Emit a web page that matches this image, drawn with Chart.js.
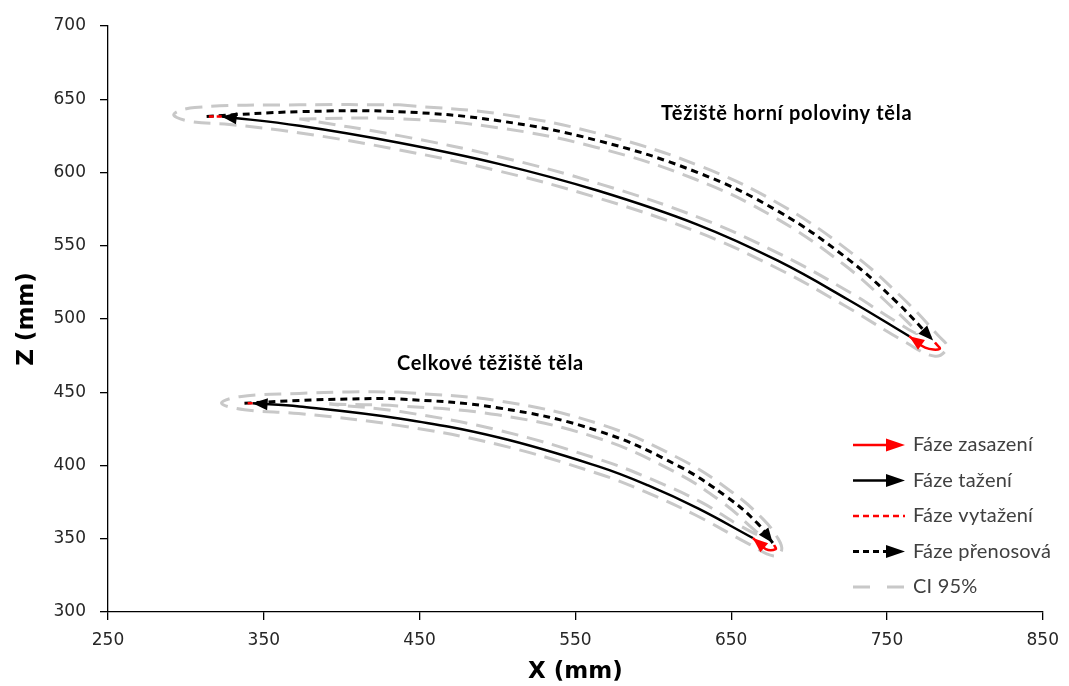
<!DOCTYPE html>
<html lang="cs">
<head>
<meta charset="utf-8">
<title>Trajektorie těžiště</title>
<script src="https://cdn.jsdelivr.net/npm/chart.js@4.4.1/dist/chart.umd.min.js"></script>
<style>
  html, body { margin: 0; padding: 0; background: #fff; }
  #graf { display: block; }
</style>
</head>
<body>
<canvas id="graf" width="1069" height="686"></canvas>
<script>
// osy
const xTicks = [250, 350, 450, 550, 650, 750, 850];
const zTicks = [300, 350, 400, 450, 500, 550, 600, 650, 700];

// těžiště horní poloviny těla
const hornPrenosX = [313.3, 372.8, 436.8, 500.8, 564.7, 628.7, 679.9, 724.6, 756.6, 779.6];
const hornPrenosZ = [638.3, 641.5, 641.5, 635.3, 621.7, 599.9, 573.7, 541.2, 511.2, 485.4];
const hornZasazX = [780.8, 783.8, 774.5, 764.3];
const hornZasazZ = [484.0, 479.6, 480.5, 488.2];
const hornTazX = [764.3, 724.6, 679.9, 628.7, 564.7, 500.8, 436.8, 372.8, 323.0];
const hornTazZ = [488.2, 513.5, 539.8, 564.3, 587.5, 605.9, 620.3, 631.9, 638.3];
const hornVytazX = [323.0, 313.3];
const hornVytazZ = [638.3, 638.3];
const hornCiVnejX = [437.0, 501.4, 565.9, 630.3, 682.1, 727.4, 759.7, 782.9, 788.6, 780.9, 762.0, 722.4, 677.9, 627.1, 563.4, 499.7, 436.0, 372.2, 328.0, 302.5, 292.2, 305.7, 372.8, 437.0];
const hornCiVnejZ = [646.2, 640.0, 626.3, 604.3, 577.8, 545.0, 514.7, 488.7, 480.7, 474.6, 484.1, 509.4, 535.5, 559.9, 583.0, 601.3, 615.6, 627.2, 632.8, 634.9, 639.6, 644.4, 646.2, 646.2];
const hornCiVnitX = [372.8, 436.6, 500.1, 563.6, 627.0, 677.6, 721.9, 753.6, 769.4, 753.4, 726.9, 681.8, 630.3, 566.0, 501.8, 437.6, 372.8];
const hornCiVnitZ = [636.6, 636.7, 630.6, 617.1, 595.4, 569.5, 537.5, 507.7, 490.3, 499.8, 517.7, 544.1, 568.8, 592.1, 610.6, 625.0, 636.6];

// celkové těžiště těla
const celkPrenosX = [337.6, 372.8, 404.8, 436.8, 500.8, 564.7, 615.9, 647.9, 667.1, 676.7];
const celkPrenosZ = [442.5, 444.4, 445.4, 445.4, 439.3, 423.6, 399.8, 378.0, 360.3, 347.1];
const celkZasazX = [677.5, 678.6, 672.2, 663.9];
const celkZasazZ = [345.7, 343.0, 343.0, 350.5];
const celkTazX = [663.9, 628.7, 596.7, 564.7, 500.8, 436.8, 372.8, 342.8];
const celkTazZ = [350.5, 370.7, 386.4, 399.4, 419.1, 432.1, 440.3, 442.5];
const celkVytazX = [342.8, 337.6];
const celkVytazZ = [442.5, 442.5];
const celkCiVnejX = [436.8, 501.5, 566.1, 618.0, 650.6, 670.3, 680.1, 682.4, 677.3, 661.8, 626.7, 595.0, 563.3, 499.7, 436.1, 372.4, 337.6, 322.9, 334.4, 372.8, 404.8, 436.8];
const celkCiVnejZ = [450.2, 444.0, 428.1, 404.1, 381.8, 363.6, 350.1, 342.3, 338.2, 346.2, 366.4, 382.0, 394.9, 414.5, 427.4, 435.5, 438.1, 442.5, 447.0, 449.2, 450.2, 450.2];
const celkCiVnitX = [392.0, 436.8, 500.0, 563.3, 613.8, 645.2, 663.9, 669.0, 654.3, 630.7, 598.4, 566.1, 501.8, 437.5, 392.0];
const celkCiVnitZ = [441.9, 440.6, 434.6, 419.1, 395.6, 374.2, 356.9, 351.8, 359.7, 375.0, 390.8, 403.9, 423.8, 436.8, 441.9];

// popisky
const popisky = [
  { text: 'Těžiště horní poloviny těla', x: 605.0, z: 640.0 },
  { text: 'Celkové těžiště těla', x: 435.5, z: 469.4 }
];
const legendaNazvy = ['Fáze zasazení', 'Fáze tažení', 'Fáze vytažení', 'Fáze přenosová', 'CI 95%'];

const CERVENA = '#ff0000';
const CERNA = '#000000';
const SEDA = '#c8c8c8';

function body(xs, zs) {
  return xs.map((x, i) => ({ x: x, y: zs[i] }));
}

const styly = {
  zasaz: { borderColor: CERVENA, borderWidth: 2.5, arrow: true },
  taz: { borderColor: CERNA, borderWidth: 2.5, arrow: true },
  vytaz: { borderColor: CERVENA, borderWidth: 2.5, borderDash: [5, 3] },
  prenos: { borderColor: CERNA, borderWidth: 3, borderDash: [7, 5], arrow: true },
  ci: { borderColor: SEDA, borderWidth: 3, borderDash: [17, 9] }
};

function sada(xs, zs, styl) {
  return Object.assign({
    data: body(xs, zs),
    showLine: true,
    pointRadius: 0,
    pointHoverRadius: 0,
    tension: 0.4,
    fill: false
  }, styly[styl]);
}

// index 0 je kreslen nahoře
const datasets = [
  sada(hornZasazX, hornZasazZ, 'zasaz'),
  sada(celkZasazX, celkZasazZ, 'zasaz'),
  sada(hornVytazX, hornVytazZ, 'vytaz'),
  sada(celkVytazX, celkVytazZ, 'vytaz'),
  sada(hornTazX, hornTazZ, 'taz'),
  sada(celkTazX, celkTazZ, 'taz'),
  sada(hornPrenosX, hornPrenosZ, 'prenos'),
  sada(celkPrenosX, celkPrenosZ, 'prenos'),
  sada(hornCiVnejX, hornCiVnejZ, 'ci'),
  sada(hornCiVnitX, hornCiVnitZ, 'ci'),
  sada(celkCiVnejX, celkCiVnejZ, 'ci'),
  sada(celkCiVnitX, celkCiVnitZ, 'ci')
];

function sipka(ctx, x1, y1, x2, y2, barva, delka, pul) {
  const a = Math.atan2(y2 - y1, x2 - x1);
  ctx.save();
  ctx.fillStyle = barva;
  ctx.beginPath();
  ctx.moveTo(x2, y2);
  ctx.lineTo(x2 - delka * Math.cos(a) + pul * Math.sin(a), y2 - delka * Math.sin(a) - pul * Math.cos(a));
  ctx.lineTo(x2 - delka * Math.cos(a) - pul * Math.sin(a), y2 - delka * Math.sin(a) + pul * Math.cos(a));
  ctx.closePath();
  ctx.fill();
  ctx.restore();
}

// šipky na koncích fází
const sipkyPlugin = {
  id: 'sipky',
  afterDatasetsDraw(chart) {
    const ctx = chart.ctx;
    chart.data.datasets.forEach((ds, i) => {
      if (!ds.arrow) return;
      const pts = chart.getDatasetMeta(i).data;
      const n = pts.length;
      sipka(ctx, pts[n - 2].x, pts[n - 2].y, pts[n - 1].x, pts[n - 1].y, ds.borderColor, 15, 6);
    });
  }
};

// popisky a legenda
const popiskyPlugin = {
  id: 'popisky',
  afterDraw(chart) {
    const ctx = chart.ctx;
    const sx = chart.scales.x, sy = chart.scales.y;
    ctx.save();
    ctx.fillStyle = '#000';
    ctx.font = 'bold 20px Lato';
    ctx.letterSpacing = '0.7px';
    ctx.textAlign = 'left';
    ctx.textBaseline = 'middle';
    popisky.forEach(p => ctx.fillText(p.text, sx.getPixelForValue(p.x), sy.getPixelForValue(p.z)));

    const x0 = 853, x1 = 905, y0 = 445, krok = 35.5;
    const vzory = [
      { barva: CERVENA, dash: [], sirka: 2.5, arrow: true },
      { barva: CERNA, dash: [], sirka: 2.5, arrow: true },
      { barva: CERVENA, dash: [6, 4], sirka: 2.5, arrow: false },
      { barva: CERNA, dash: [6, 4], sirka: 3, arrow: true },
      { barva: SEDA, dash: [17, 17], sirka: 3, arrow: false }
    ];
    ctx.font = '20px Lato';
    ctx.letterSpacing = '0.2px';
    legendaNazvy.forEach((nazev, i) => {
      const y = y0 + i * krok;
      const v = vzory[i];
      ctx.strokeStyle = v.barva;
      ctx.lineWidth = v.sirka;
      ctx.setLineDash(v.dash);
      ctx.beginPath();
      ctx.moveTo(x0, y);
      ctx.lineTo(v.arrow ? x1 - 12 : x1, y);
      ctx.stroke();
      ctx.setLineDash([]);
      if (v.arrow) sipka(ctx, x0, y, x1, y, v.barva, 19, 6.5);
      ctx.fillStyle = '#404040';
      ctx.fillText(nazev, 913, y);
    });
    ctx.restore();
  }
};

const osa = {
  grid: { drawOnChartArea: false, drawTicks: true, tickLength: 8, color: '#000', lineWidth: 1.3 },
  border: { display: true, color: '#000', width: 1.3 },
  ticks: { color: '#262626', font: { family: 'DejaVu Sans', size: 17 } },
  title: { display: true, color: '#000', font: { family: 'DejaVu Sans', size: 23, weight: 'bold' } }
};

new Chart(document.getElementById('graf'), {
  type: 'scatter',
  data: { datasets: datasets },
  options: {
    responsive: false,
    animation: false,
    devicePixelRatio: 1,
    layout: { padding: { top: 26, right: 23, left: 0, bottom: 0 } },
    plugins: { legend: { display: false }, tooltip: { enabled: false } },
    scales: {
      x: Object.assign({}, osa, {
        type: 'linear', min: 250, max: 850,
        ticks: Object.assign({}, osa.ticks, { padding: 10 }),
        title: Object.assign({}, osa.title, { text: 'X (mm)', padding: { top: 0, bottom: 0 } }),
        afterBuildTicks: s => { s.ticks = xTicks.map(v => ({ value: v })); },
        afterFit: s => { s.height = 74; }
      }),
      y: Object.assign({}, osa, {
        type: 'linear', min: 300, max: 700,
        ticks: Object.assign({}, osa.ticks, { padding: 14 }),
        title: Object.assign({}, osa.title, { text: 'Z (mm)', padding: { top: 13, bottom: 0 } }),
        afterBuildTicks: s => { s.ticks = zTicks.map(v => ({ value: v })); },
        afterFit: s => { s.width = 108; }
      })
    }
  },
  plugins: [sipkyPlugin, popiskyPlugin]
});
</script>
</body>
</html>
